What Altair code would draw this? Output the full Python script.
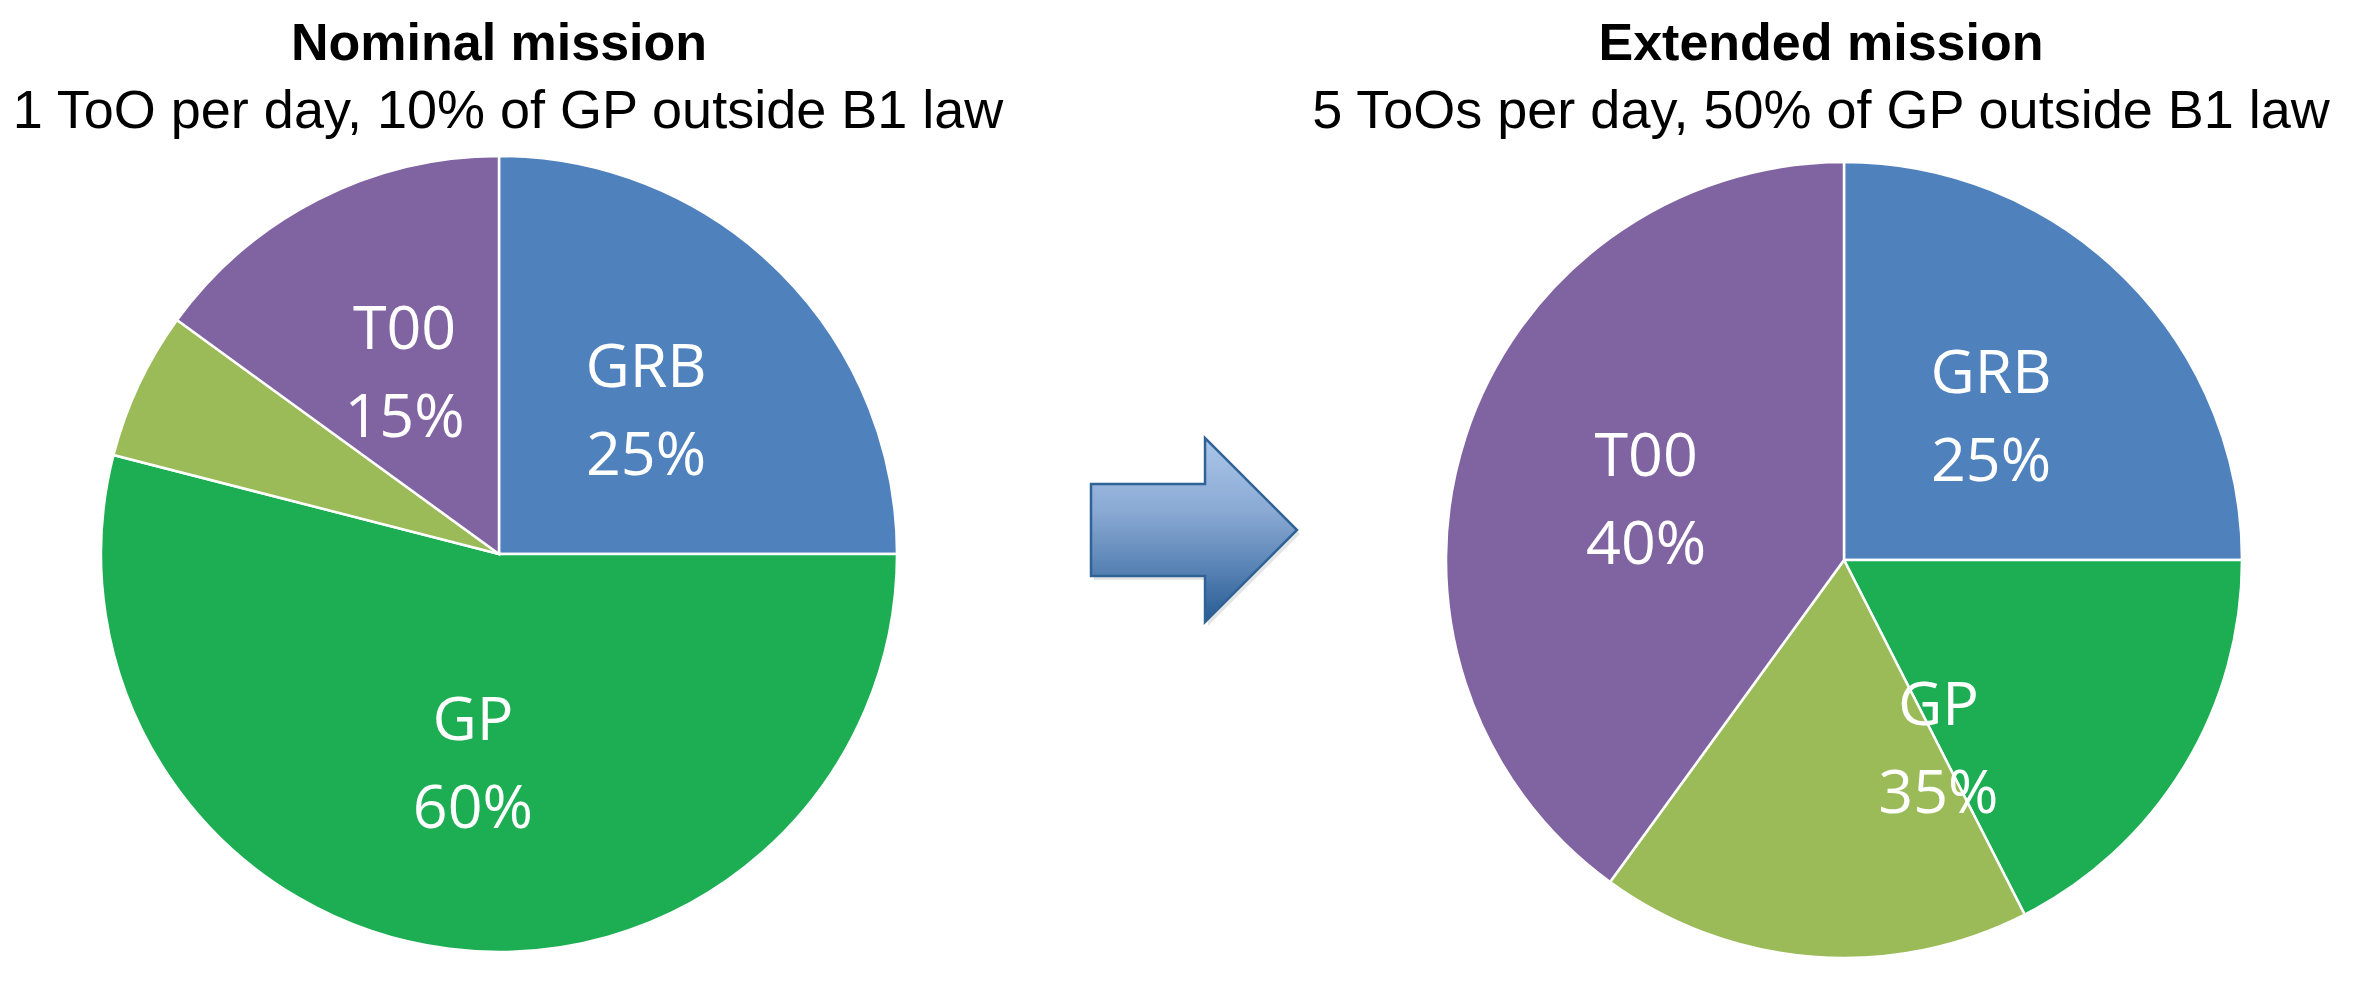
import altair as alt
import pandas as pd

# ---- data ----
segments = ["GRB", "GP (B1 law)", "GP (outside B1 law)", "T00"]
segment_colors = ["#4F81BD", "#1DAE54", "#9BBB59", "#8064A2"]
nominal_share = [25, 54, 6, 15]
extended_share = [25, 17.5, 17.5, 40]

nominal_labels = ["GRB\n25%", "GP\n60%", "", "T00\n15%"]
nominal_label_share = [25, 54, 6, 15]
extended_labels = ["GRB\n25%", "GP\n35%", "T00\n40%"]
extended_label_share = [25, 35, 40]

titles = ["Nominal mission", "Extended mission"]
subtitles = ["1 ToO per day, 10% of GP outside B1 law",
             "5 ToOs per day, 50% of GP outside B1 law"]

# ---- layout ----
W, H = 2354, 969
R = 398
LEFT = (491, 546)
RIGHT = (1836, 552)

nom_df = pd.DataFrame({"segment": segments, "share": nominal_share, "idx": range(4)})
ext_df = pd.DataFrame({"segment": segments, "share": extended_share, "idx": range(4)})
nom_lab = pd.DataFrame({"label": nominal_labels, "share": nominal_label_share,
                        "idx": range(len(nominal_labels))})
ext_lab = pd.DataFrame({"label": extended_labels, "share": extended_label_share,
                        "idx": range(len(extended_labels))})

color_scale = alt.Scale(domain=segments, range=segment_colors)


def pie(df, c):
    return alt.Chart(df).mark_arc(radius=R, stroke="white", strokeWidth=2.5).encode(
        theta=alt.Theta("share:Q", stack=True),
        order=alt.Order("idx:O"),
        color=alt.Color("segment:N", scale=color_scale, legend=None),
        x=alt.value(c[0]), y=alt.value(c[1]),
    )


def labels(df, c):
    return alt.Chart(df).mark_text(
        radius=208, font="Open Sans", fontSize=61, color="white",
        lineBreak="\n", lineHeight=88, align="center", baseline="middle", dy=-38,
    ).encode(
        theta=alt.Theta("share:Q", stack=True),
        order=alt.Order("idx:O"),
        text="label:N",
        x=alt.value(c[0]), y=alt.value(c[1]),
    )


def title_text(txt, cx, y, bold, size):
    return alt.Chart(pd.DataFrame({"t": [txt]})).mark_text(
        font="Liberation Sans", fontSize=size, fontWeight="bold" if bold else "normal",
        color="black", align="center", baseline="alphabetic",
    ).encode(text="t:N", x=alt.value(cx), y=alt.value(y))


arrow_path = "M-1,-0.447 L0.107,-0.447 L0.107,-0.893 L1,0 L0.107,0.893 L0.107,0.447 L-1,0.447 Z"
one = pd.DataFrame({"a": [0]})
arrow_shadow = alt.Chart(one).mark_point(
    shape=arrow_path, size=42436, filled=True, fill="black", opacity=0.10, strokeWidth=0,
).encode(x=alt.value(1189), y=alt.value(526))
arrow = alt.Chart(one).mark_point(
    shape=arrow_path, size=42436, filled=True, opacity=1,
    fill=alt.Gradient(
        gradient="linear",
        stops=[alt.GradientStop(color="#ABC6EA", offset=0),
               alt.GradientStop(color="#8AA9D3", offset=0.4),
               alt.GradientStop(color="#5A84B6", offset=0.7),
               alt.GradientStop(color="#275B92", offset=1)],
        x1=0, x2=0, y1=0, y2=1),
    stroke="#2F6396", strokeWidth=2.5,
).encode(x=alt.value(1186), y=alt.value(522))

chart = alt.layer(
    pie(nom_df, LEFT), labels(nom_lab, LEFT),
    pie(ext_df, RIGHT), labels(ext_lab, RIGHT),
    title_text(titles[0], 491, 52, True, 52),
    title_text(subtitles[0], 500, 120, False, 54),
    title_text(titles[1], 1813, 52, True, 52),
    title_text(subtitles[1], 1813, 120, False, 54),
    arrow_shadow, arrow,
).resolve_scale(theta="independent").properties(
    width=W, height=H, padding=0, background="white"
).configure_view(stroke=None)

chart.save("out.html", embed_options={"renderer": "svg", "actions": False})
